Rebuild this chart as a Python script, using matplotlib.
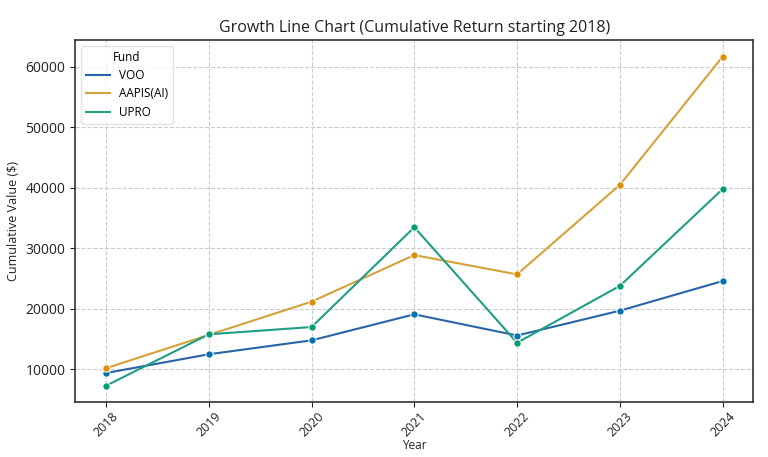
import matplotlib
matplotlib.use("Agg")
import matplotlib.pyplot as plt

years = [2018, 2019, 2020, 2021, 2022, 2023, 2024]
voo = [9400, 12500, 14800, 19100, 15600, 19700, 24600]
aapis = [10200, 15700, 21200, 28900, 25700, 40500, 61700]
upro = [7300, 15800, 17000, 33500, 14400, 23800, 39800]
series_names = ["VOO", "AAPIS(AI)", "UPRO"]
colors = ["#0173b2", "#de8f05", "#029e73"]
line_colors = ["#2a64a8", "#d4a23a", "#1f9e86"]

plt.rcParams['font.family'] = ['Open Sans', 'DejaVu Sans']

fig, ax = plt.subplots(figsize=(7.68, 4.57), dpi=100)
for vals, name, c, lc in zip([voo, aapis, upro], series_names, colors, line_colors):
    ax.plot(years, vals, color=lc, lw=1.5, label=name, zorder=2)
    ax.scatter(years, vals, color=c, s=28, edgecolor="white", linewidth=0.7, zorder=3)

ax.grid(True, linestyle="--", color="#cccccc", linewidth=0.8)
ax.set_axisbelow(True)
for s in ax.spines.values():
    s.set_color("#333333")
    s.set_linewidth(1.2)
ax.set_xticks(years)
ax.set_xticklabels([str(y) for y in years], rotation=45)
ax.tick_params(axis="x", colors="#222222", labelsize=9, pad=2)
ax.tick_params(axis="y", colors="#222222", labelsize=10)
ax.set_title("Growth Line Chart (Cumulative Return starting 2018)", fontsize=11.5, color="#222222")
ax.set_xlabel("Year", fontsize=8.5, color="#222222", labelpad=0)
ax.set_ylabel("Cumulative Value ($)", fontsize=9, color="#222222")
leg = ax.legend(title="Fund", loc="upper left", fontsize=8.5, title_fontsize=8.5, frameon=True,
                labelspacing=0.45)
leg.get_frame().set_edgecolor("#dddddd")

fig.subplots_adjust(left=0.098, right=0.981, top=0.912, bottom=0.12)
fig.savefig("out.png", dpi=100)
